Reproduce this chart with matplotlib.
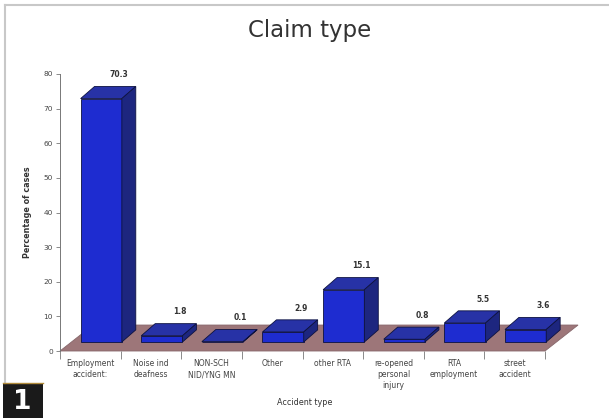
import matplotlib
matplotlib.use("Agg")
from matplotlib import pyplot as plt
from matplotlib.patches import Polygon, Rectangle
from matplotlib.lines import Line2D

categories = ["Employment\naccident:", "Noise ind\ndeafness", "NON-SCH\nNID/YNG MN",
              "Other", "other RTA", "re-opened\npersonal\ninjury",
              "RTA\nemployment", "street\naccident"]
percent = [70.3, 1.8, 0.1, 2.9, 15.1, 0.8, 5.5, 3.6]
value_labels = ["70.3", "1.8", "0.1", "2.9", "15.1", "0.8", "5.5", "3.6"]
yticks = [0, 10, 20, 30, 40, 50, 60, 70, 80]

W, H = 609, 418
fig = plt.figure(figsize=(W / 100, H / 100), dpi=100)
fig.patch.set_facecolor("white")

# axes placed so that x 0..8 -> px 60..545, y 0..80 -> px 351..74
x0, x1, ytop, ybot = 60, 545, 74, 351
ax = fig.add_axes([x0 / W, (H - ybot) / H, (x1 - x0) / W, (ybot - ytop) / H])
n = len(categories)
ax.set_xlim(0, n)
ax.set_ylim(0, 80)

# depth offsets (category units, value units)
floor_dx, floor_dy = 0.545, 7.5
off_dx, off_dy = 0.18, 2.6
bar_dx, bar_dy = 0.23, 3.5
bar_w, bar_pad = 0.68, 0.16

floor = Polygon([(0, 0), (n, 0), (n + floor_dx, floor_dy), (floor_dx, floor_dy)],
                closed=True, facecolor="#9d7679", edgecolor="#86666a", lw=0.6,
                clip_on=False, zorder=1)
ax.add_patch(floor)

front_c = "#1e2cd0"
top_c = "#2732a6"
side_c = "#1d267f"
edge_c = "#0d1240"

for i, v in enumerate(percent):
    xl = i + bar_pad + off_dx
    xr = xl + bar_w
    yb = off_dy
    yt = off_dy + v
    front = Polygon([(xl, yb), (xr, yb), (xr, yt), (xl, yt)], closed=True,
                    facecolor=front_c, edgecolor=edge_c, lw=0.6, clip_on=False, zorder=3)
    top = Polygon([(xl, yt), (xr, yt), (xr + bar_dx, yt + bar_dy), (xl + bar_dx, yt + bar_dy)],
                  closed=True, facecolor=top_c, edgecolor=edge_c, lw=0.6, clip_on=False, zorder=3)
    side = Polygon([(xr, yb), (xr + bar_dx, yb + bar_dy), (xr + bar_dx, yt + bar_dy), (xr, yt)],
                   closed=True, facecolor=side_c, edgecolor=edge_c, lw=0.6, clip_on=False, zorder=3)
    for p in (front, top, side):
        ax.add_patch(p)
    ax.text((xl + xr) / 2 + bar_dx + 0.06, v + 9.5, value_labels[i], ha="center", va="center",
            fontsize=5.5, fontweight="bold", color="#333333", clip_on=False, zorder=4)

for s in ("top", "right"):
    ax.spines[s].set_visible(False)
ax.spines["left"].set_color("#777777")
ax.spines["left"].set_linewidth(0.7)
ax.spines["bottom"].set_visible(False)

ax.set_yticks(yticks)
ax.set_yticklabels([str(t) for t in yticks], fontsize=5.3, color="#444444")
ax.tick_params(axis="y", length=3, width=0.6, color="#777777", pad=2)

ax.set_xticks(range(n + 1))
ax.set_xticklabels([""] * (n + 1))
ax.tick_params(axis="x", length=6, width=0.6, color="#777777", direction="out")
ax.set_xticks([i + 0.5 for i in range(n)], minor=True)
ax.set_xticklabels(categories, minor=True, fontsize=5.5, color="#444444", linespacing=1.25)
ax.tick_params(axis="x", which="minor", length=0, pad=6)
for lab in ax.get_xticklabels(minor=True):
    lab.set_verticalalignment("top")

ax.set_ylabel("Percentage of cases", fontsize=5.8, fontweight="bold", color="#333333", labelpad=8)
ax.set_xlabel("Accident type", fontsize=5.8, color="#333333", labelpad=6)
ax.xaxis.set_label_coords(0.505, -0.17)
ax.yaxis.set_label_coords(-0.058, 0.5)

fig.text(310 / W, 1 - 30 / H, "Claim type", ha="center", va="center",
         fontsize=16.5, color="#333333")

# page frame and figure number box
fig.add_artist(Line2D([5 / W, 1], [1 - 5 / H, 1 - 5 / H], color="#c8c8c8", lw=1.5))
fig.add_artist(Line2D([5 / W, 5 / W], [1 - 5 / H, 1 - 383 / H], color="#c8c8c8", lw=1.5))
fig.add_artist(Rectangle((3 / W, 0), 40 / W, 35 / H, facecolor="#1a1a1a",
                         edgecolor="none", transform=fig.transFigure))
fig.add_artist(Line2D([3 / W, 43 / W], [35 / H, 35 / H], color="#b08a3a", lw=1.0))
fig.text(22 / W, 16 / H, "1", ha="center", va="center", fontsize=19,
         fontweight="bold", color="white")

fig.savefig("out.png", dpi=100)
